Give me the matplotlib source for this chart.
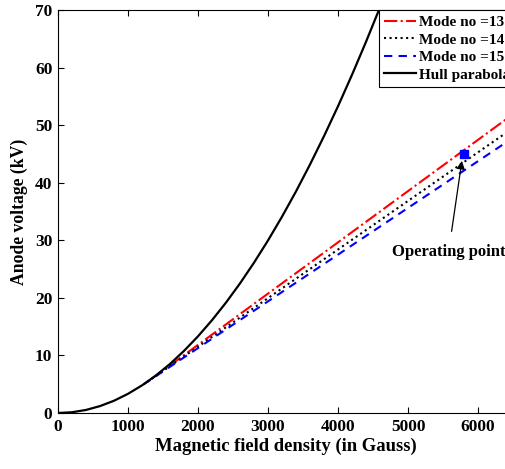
import matplotlib
matplotlib.use("Agg")
import matplotlib.pyplot as plt

# Hull parabola (B in Gauss, V in kV)
hull_B = [0, 200, 400, 600, 800, 1000, 1200, 1400, 1600, 1800, 2000, 2200, 2400,
          2600, 2800, 3000, 3200, 3400, 3600, 3800, 4000, 4200, 4400, 4600]
hull_V = [0.0, 0.13, 0.53, 1.20, 2.13, 3.33, 4.80, 6.53, 8.52, 10.79, 13.32, 16.12,
          19.18, 22.51, 26.11, 29.97, 34.10, 38.49, 43.16, 48.09, 53.28, 58.74, 64.47, 70.46]

# Hartree lines (start, end)
mode13_B = [1340, 6500]
mode13_V = [5.96, 51.9]
mode14_B = [1273, 6500]
mode14_V = [5.38, 49.5]
mode15_B = [1223, 6500]
mode15_V = [4.97, 47.8]

op_B, op_V = 5800, 45.0

legend_labels = ["Mode no =13", "Mode no =14", "Mode no =15", "Hull parabola"]
xticks = [0, 1000, 2000, 3000, 4000, 5000, 6000]
yticks = [0, 10, 20, 30, 40, 50, 60, 70]

plt.rcParams['font.family'] = ['Liberation Serif', 'DejaVu Serif']
plt.rcParams['font.weight'] = 'bold'

W, H = 505, 469
fig = plt.figure(figsize=(W / 100, H / 100), dpi=100)
left, top, bottom, right = 58, 10, 413, 513
ax = fig.add_axes([left / W, 1 - bottom / H, (right - left) / W, (bottom - top) / H])

l13, = ax.plot(mode13_B, mode13_V, color='red', linestyle='-.', linewidth=1.5)
l14, = ax.plot(mode14_B, mode14_V, color='black', linestyle=':', linewidth=1.5)
l15, = ax.plot(mode15_B, mode15_V, color='blue', linestyle='--', linewidth=1.5, dashes=(4, 3))
lh, = ax.plot(hull_B, hull_V, color='black', linestyle='-', linewidth=1.6)
ax.plot([op_B], [op_V], marker='s', color='blue', markersize=6, linestyle='none')

ax.set_xlim(0, 6500)
ax.set_ylim(0, 70)
ax.set_xticks(xticks)
ax.set_yticks(yticks)
ax.tick_params(direction='in', length=4, width=0.8, top=True, right=True,
               labelsize=12.5, pad=4)
for lab in ax.get_xticklabels() + ax.get_yticklabels():
    lab.set_fontweight('bold')
for s in ax.spines.values():
    s.set_linewidth(0.8)

ax.set_xlabel('Magnetic field density (in Gauss)', fontsize=13.4, fontweight='bold', labelpad=2)
ax.set_ylabel('Anode voltage (kV)', fontsize=12.7, fontweight='bold', labelpad=5)

ax.annotate('Operating point', xy=(op_B - 30, op_V - 1.2), xytext=(5580, 28.0),
            fontsize=12, fontweight='bold', ha='center', va='center',
            arrowprops=dict(arrowstyle='-|>', color='black', lw=0.9,
                            mutation_scale=12, shrinkA=7, shrinkB=0))

leg = fig.legend([l13, l14, l15, lh], legend_labels, loc='upper left',
                 bbox_to_anchor=(379 / W, 1 - 10 / H), prop={'weight': 'bold', 'size': 11},
                 frameon=True, fancybox=False, edgecolor='black', framealpha=1,
                 handlelength=2.1, handletextpad=0.15, borderpad=0.35, labelspacing=0.25,
                 borderaxespad=0)
leg.get_frame().set_linewidth(0.8)

fig.savefig('out.png', dpi=100)
